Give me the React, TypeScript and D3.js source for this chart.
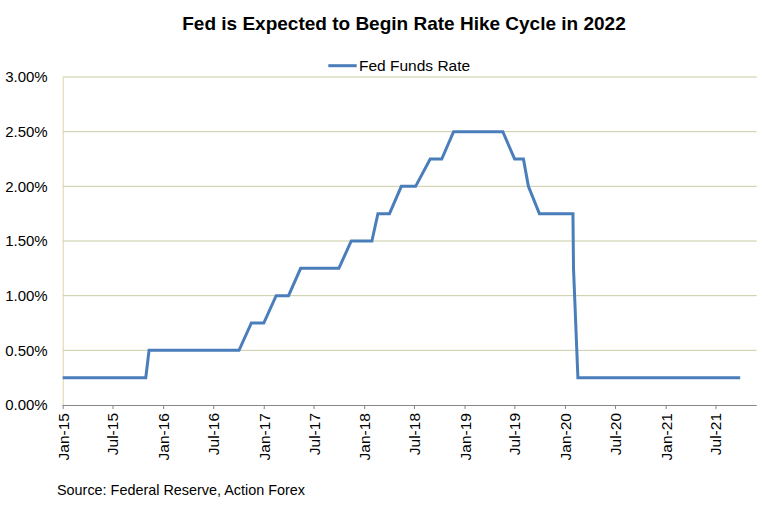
import { useEffect, useRef } from 'react'
import * as d3 from 'd3'

// vertices of the step line
const rateDates = [
  '2015-01-01', '2015-10-30', '2015-11-11', '2016-10-03', '2016-11-17',
  '2017-01-01', '2017-02-15', '2017-04-01', '2017-05-15', '2017-10-01',
  '2017-11-15', '2018-01-29', '2018-02-20', '2018-04-03', '2018-05-16',
  '2018-07-07', '2018-08-29', '2018-10-10', '2018-11-22', '2019-05-20',
  '2019-07-02', '2019-08-03', '2019-08-21', '2019-09-30', '2020-01-30',
  '2020-02-01', '2020-02-17', '2021-09-29',
]
const rateValues = [
  0.25, 0.25, 0.5, 0.5, 0.75,
  0.75, 1.0, 1.0, 1.25, 1.25,
  1.5, 1.5, 1.75, 1.75, 2.0,
  2.0, 2.25, 2.25, 2.5, 2.5,
  2.25, 2.25, 2.0, 1.75, 1.75,
  1.25, 0.25, 0.25,
]
const xTickDates = [
  '2015-01-01', '2015-07-01', '2016-01-01', '2016-07-01', '2017-01-01',
  '2017-07-01', '2018-01-01', '2018-07-01', '2019-01-01', '2019-07-01',
  '2020-01-01', '2020-07-01', '2021-01-01', '2021-07-01',
]
const yTicks = [0, 0.5, 1.0, 1.5, 2.0, 2.5, 3.0]

const title = 'Fed is Expected to Begin Rate Hike Cycle in 2022'
const seriesName = 'Fed Funds Rate'
const source = 'Source: Federal Reserve, Action Forex'

const FONT = '"Liberation Sans", Arial, sans-serif'
const LINE = '#4a7ebb'

export default function App() {
  const svgRef = useRef<SVGSVGElement>(null)

  useEffect(() => {
    if (!svgRef.current) return
    const svg = d3.select(svgRef.current)
    svg.selectAll('*').remove()

    const width = 783
    const height = 507
    const left = 62.7
    const right = 756.7
    const top = 77
    const bottom = 405

    svg.attr('width', width).attr('height', height)

    const parse = d3.timeParse('%Y-%m-%d')
    const data = rateDates.map((d, i) => ({ date: parse(d) as Date, rate: rateValues[i] }))

    const x = d3
      .scaleTime()
      .domain([parse('2015-01-01') as Date, parse('2021-11-28') as Date])
      .range([left, right])

    const y = d3.scaleLinear().domain([0, 3]).range([bottom, top])

    // gridlines
    svg.append('g')
      .selectAll('line')
      .data(yTicks.filter(t => t > 0))
      .join('line')
      .attr('x1', left)
      .attr('x2', right)
      .attr('y1', d => y(d))
      .attr('y2', d => y(d))
      .attr('stroke', '#c9cca3')
      .attr('stroke-width', 1)

    // y axis (light, no ticks)
    const yAxis = d3.axisLeft(y)
      .tickValues(yTicks)
      .tickSize(0)
      .tickPadding(15)
      .tickFormat(d => `${(d as number).toFixed(2)}%`)

    const yg = svg.append('g')
      .attr('transform', `translate(${left},0)`)
      .call(yAxis)
    yg.select('.domain').attr('stroke', '#e0d4ac')
    yg.selectAll('text')
      .style('font-family', FONT)
      .style('font-size', '15px')
      .style('fill', '#000')

    // x axis
    const ticks = xTickDates.map(d => parse(d) as Date)
    const xAxis = d3.axisBottom(x)
      .tickValues(ticks)
      .tickSizeInner(4)
      .tickSizeOuter(0)
      .tickFormat(d => d3.timeFormat('%b-%y')(d as Date))

    const xg = svg.append('g')
      .attr('transform', `translate(0,${bottom})`)
      .call(xAxis)
    xg.select('.domain').attr('stroke', '#868686').attr('d', `M${left},0.5H${right}`)
    xg.selectAll('.tick line').attr('stroke', '#868686')
    xg.selectAll('text')
      .style('font-family', FONT)
      .style('font-size', '15.5px')
      .style('fill', '#000')
      .attr('text-anchor', 'end')
      .attr('transform', 'rotate(-90)')
      .attr('x', -8)
      .attr('y', 0)
      .attr('dy', '0.35em')

    // series line
    const line = d3.line<{ date: Date; rate: number }>()
      .x(d => x(d.date))
      .y(d => y(d.rate))

    svg.append('path')
      .datum(data)
      .attr('fill', 'none')
      .attr('stroke', LINE)
      .attr('stroke-width', 3)
      .attr('stroke-linejoin', 'miter')
      .attr('d', line)

    // title
    svg.append('text')
      .attr('x', 404)
      .attr('y', 30)
      .attr('text-anchor', 'middle')
      .style('font-family', FONT)
      .style('font-size', '19px')
      .style('font-weight', 'bold')
      .text(title)

    // legend
    svg.append('line')
      .attr('x1', 328.3)
      .attr('x2', 356.7)
      .attr('y1', 65.7)
      .attr('y2', 65.7)
      .attr('stroke', LINE)
      .attr('stroke-width', 3)
    svg.append('text')
      .attr('x', 359)
      .attr('y', 71)
      .style('font-family', FONT)
      .style('font-size', '15.5px')
      .text(seriesName)

    // source
    svg.append('text')
      .attr('x', 57)
      .attr('y', 495)
      .style('font-family', FONT)
      .style('font-size', '14.4px')
      .text(source)
  }, [])

  return (
    <div style={{ position: 'absolute', left: 0, top: 0, background: '#fff' }}>
      <svg ref={svgRef} style={{ display: 'block' }} />
    </div>
  )
}
